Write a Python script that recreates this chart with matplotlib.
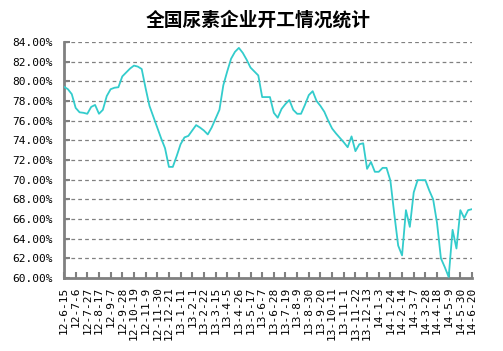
import matplotlib
matplotlib.use('Agg')
import matplotlib.pyplot as plt

# weekly operating rate (%), 12-6-15 .. 14-6-20
rates = [
    79.45, 79.2, 78.7, 77.3, 76.85, 76.8, 76.7, 77.4, 77.6, 76.7,
    77.1, 78.5, 79.2, 79.35, 79.4, 80.5, 80.9, 81.3, 81.6, 81.5,
    81.25, 79.3, 77.5, 76.4, 75.3, 74.2, 73.2, 71.3, 71.3, 72.4,
    73.6, 74.3, 74.45, 75.0, 75.55, 75.3, 75.0, 74.6, 75.3, 76.2,
    77.1, 79.6, 81.0, 82.3, 83.0, 83.4, 82.9, 82.2, 81.4, 81.0,
    80.6, 78.4, 78.4, 78.4, 76.8, 76.3, 77.2, 77.7, 78.1, 77.1,
    76.7, 76.7, 77.6, 78.6, 79.0, 78.0, 77.5, 76.9, 76.0, 75.2,
    74.7, 74.25, 73.8, 73.3, 74.4, 72.9, 73.6, 73.7, 71.1, 71.8,
    70.8, 70.8, 71.2, 71.2, 69.9, 66.5, 63.3, 62.3, 66.9, 65.2,
    68.7, 69.95, 69.95, 69.95, 68.9, 68.0, 65.6, 62.0, 61.1, 60.1,
    64.9, 63.0, 66.9, 66.1, 66.9, 67.0,
]

date_labels = [
    '12-6-15', '12-7-6', '12-7-27', '12-8-17', '12-9-7', '12-9-28',
    '12-10-19', '12-11-9', '12-11-30', '12-12-21', '13-1-11', '13-2-1',
    '13-2-22', '13-3-15', '13-4-5', '13-4-26', '13-5-17', '13-6-7',
    '13-6-28', '13-7-19', '13-8-9', '13-8-30', '13-9-20', '13-10-11',
    '13-11-1', '13-11-22', '13-12-13', '14-1-3', '14-1-24', '14-2-14',
    '14-3-7', '14-3-28', '14-4-18', '14-5-9', '14-5-30', '14-6-20',
]

y_ticks = list(range(60, 85, 2))

W, H = 503, 351
fig = plt.figure(figsize=(W / 100, H / 100), dpi=100)
ax = fig.add_axes([64 / W, 1 - 278 / H, (472 - 64) / W, (278 - 42) / H])

weeks = list(range(len(rates)))
ax.plot(weeks, rates, color='#33CCCC', linewidth=1.3, zorder=3)

ax.set_xlim(0, len(rates) - 1)
ax.set_ylim(60, 84)

ax.set_yticks(y_ticks)
ax.set_yticklabels(['%.2f%%' % v for v in y_ticks], family='DejaVu Sans Mono', fontsize=8)
ax.set_xticks(list(range(0, len(rates), 3)))
ax.set_xticklabels(date_labels, rotation=90, family='DejaVu Sans Mono', fontsize=8)

ax.yaxis.grid(True, linestyle=(0, (3, 2.5)), color='#808080', linewidth=0.9)
ax.set_axisbelow(True)

for s in ['top', 'right']:
    ax.spines[s].set_visible(False)
for s in ['left', 'bottom']:
    ax.spines[s].set_color('#808080')
    ax.spines[s].set_linewidth(2)

ax.tick_params(axis='both', direction='in', length=4, width=1.5, color='#808080')
ax.tick_params(axis='y', pad=8)
ax.tick_params(axis='x', pad=6)

fig.suptitle('全国尿素企业开工情况统计', x=258 / W, y=1 - 20 / H, va='center',
             fontsize=13.5, fontweight='bold', family=['Noto Sans CJK SC', 'DejaVu Sans'])

fig.savefig('out.png', dpi=100)
